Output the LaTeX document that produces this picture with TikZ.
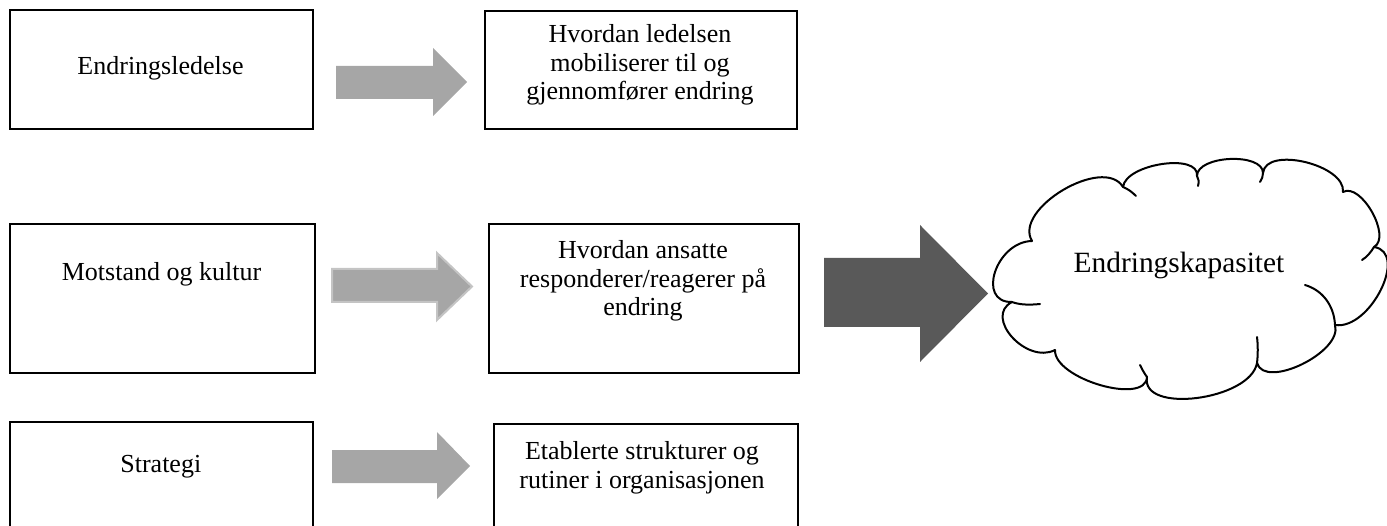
\documentclass[tikz,border=0pt]{standalone}
\usepackage{fontspec}
\setmainfont{Liberation Serif}
\definecolor{arrlight}{HTML}{A6A6A6}
\definecolor{arrdark}{HTML}{595959}
\definecolor{arrrim}{HTML}{C4C4C4}
\begin{document}
\begin{tikzpicture}[x=1pt,y=-1pt,
  box/.style={draw=black, line width=2pt, inner sep=0pt, anchor=north west},
  txt/.style={font=\fontsize{26}{28.5}\selectfont, align=center, anchor=base, inner sep=0pt},
  cloudtxt/.style={font=\fontsize{29.4}{32}\selectfont, anchor=base, inner sep=0pt},
  lightarrow/.style={fill=arrlight},
  rimarrow/.style={fill=arrlight, draw=arrrim, line width=2pt, line join=miter},
  darkarrow/.style={fill=arrdark},
  cloudline/.style={draw=black, line width=2pt, line cap=round, line join=round},
]
\useasboundingbox (0,0) rectangle (1387,526);
\clip (0,0) rectangle (1387,526);

% boxes
\node[box, minimum width=303pt, minimum height=119pt] (A1) at (9,9) {};
\node[box, minimum width=305pt, minimum height=149pt] (A2) at (9,223) {};
\node[box, minimum width=303pt, minimum height=105.5pt] (A3) at (9,421) {};
\node[box, minimum width=312pt, minimum height=117.5pt] (B1) at (484,10.5) {};
\node[box, minimum width=310pt, minimum height=149pt] (B2) at (488,223) {};
\node[box, minimum width=304pt, minimum height=103.5pt] (B3) at (493,423) {};

% texts (base anchor = baseline of the last line)
\node[txt] (tA1) at (160.5,75) {Endringsledelse};
\node[txt] (tA2) at (161.5,281) {Motstand og kultur};
\node[txt] (tA3) at (160.8,472) {Strategi};
\node[txt] (tB1) at (640,100) {Hvordan ledelsen\\mobiliserer til og\\gjennomfører endring};
\node[txt] (tB2) at (643,316) {Hvordan ansatte\\responderer/reagerer på\\endring};
\node[txt] (tB3) at (642,488.5) {Etablerte strukturer og\\rutiner i organisasjonen};

% block arrows
\path[lightarrow] (336,66) -- (433,66) -- (433,48) -- (467,82) -- (433,116) -- (433,99) -- (336,99) -- cycle;
\path[rimarrow] (332,269) -- (437,269) -- (437,253) -- (472,286.5) -- (437,320) -- (437,302) -- (332,302) -- cycle;
\path[lightarrow] (332,450) -- (437,450) -- (437,432) -- (470,466) -- (437,499) -- (437,483) -- (332,483) -- cycle;
\path[darkarrow] (824,258) -- (920,258) -- (920,225) -- (988,293.5) -- (920,362) -- (920,327) -- (824,327) -- cycle;

% cloud
\path[cloudline, fill=white]
  (1012,302)
  .. controls (976,302.7) and (996,241.7) .. (1032,241)
  .. controls (1012.7,209) and (1103.7,155) .. (1123,187)
  .. controls (1125.7,163.7) and (1199.7,152.7) .. (1197,176)
  .. controls (1197,155.3) and (1263,152.3) .. (1263,173)
  .. controls (1265.7,145.7) and (1345.7,164.7) .. (1343,192)
  .. controls (1361,182) and (1392,237) .. (1374,247)
  .. controls (1409,252.3) and (1370,330.3) .. (1335,325)
  .. controls (1343,352) and (1265,390) .. (1257,363)
  .. controls (1250.3,400.3) and (1140.3,414.3) .. (1147,377)
  .. controls (1145.7,405.7) and (1053.7,378.7) .. (1055,350)
  .. controls (1026.3,364.7) and (983.3,316.7) .. (1012,302)
  -- cycle;
% inner hooks of the cloud
\draw[cloudline] (1123,187) .. controls (1128,189) and (1132,192) .. (1136,196);
\draw[cloudline] (1197,176) .. controls (1199,179) and (1199,182) .. (1198,186);
\draw[cloudline] (1263,173) .. controls (1263,176) and (1262,179) .. (1260,182);
\draw[cloudline] (1374,247) .. controls (1371,252) and (1367,257) .. (1362,260);
\draw[cloudline] (1305,285) .. controls (1322,290) and (1334,305) .. (1335,325);
\draw[cloudline] (1257,363) .. controls (1258,355) and (1258,345) .. (1257,337);
\draw[cloudline] (1147,377) .. controls (1144,373) and (1142,369) .. (1140,365);
\draw[cloudline] (1012,302) .. controls (1020,305) and (1030,305) .. (1040,304);
\node[cloudtxt] (cap) at (1179,273) {Endringskapasitet};
\end{tikzpicture}
\end{document}
